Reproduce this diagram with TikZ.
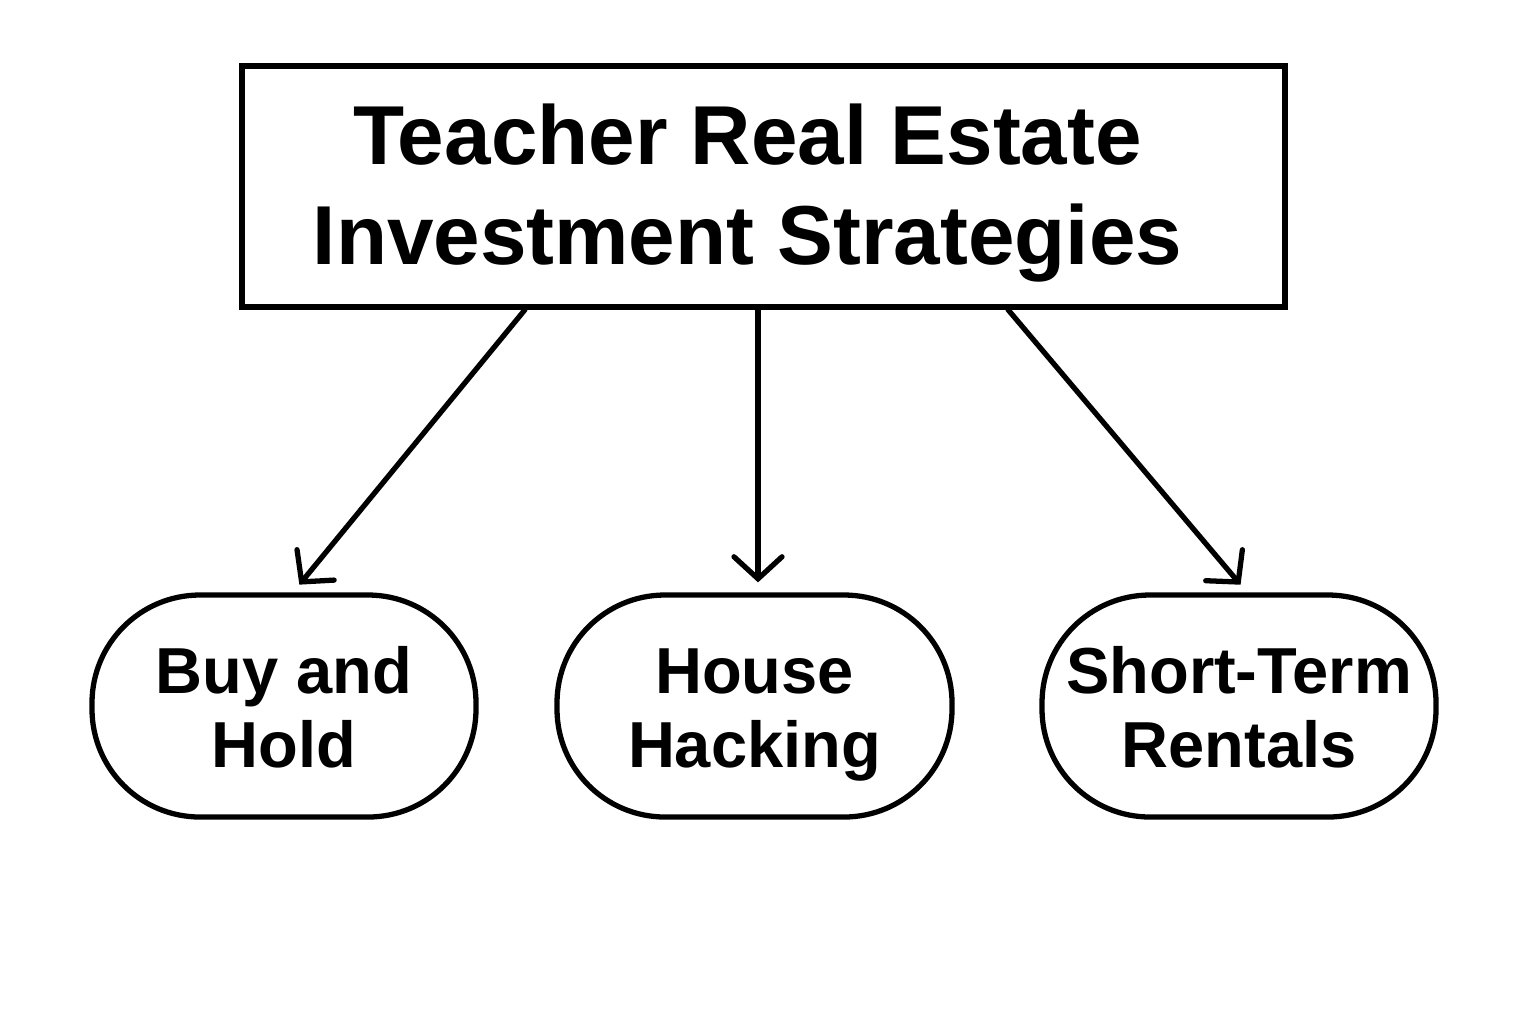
\documentclass[tikz,border=0pt]{standalone}
\usepackage{fontspec}
\setmainfont{Liberation Sans}
\usetikzlibrary{arrows.meta,calc}
\tikzset{
  strategy/.style={draw, line width=1.5pt, rounded corners=1.08cm, minimum width=3.84cm, minimum height=2.22cm, align=center, text height=1.42cm, text depth=0.2cm, font=\bfseries\fontsize{18.5}{21}\selectfont},
  branch/.style={-{Straight Barb[length=0.22cm,width=0.48cm,line cap=round]}, line width=1.5pt, line cap=round, shorten >=0.1cm}
}
\begin{document}
\begin{tikzpicture}
      \useasboundingbox (0,0) rectangle (15.36,-10.24);
      \node[draw, line width=1.5pt, minimum width=10.43cm, minimum height=2.41cm, align=center, text height=1.75cm, text depth=0.2cm, font=\bfseries\fontsize{23.8}{28.2}\selectfont] (title) at (7.635,-1.865) {Teacher Real Estate\hspace*{0.32cm}\\Investment Strategies\hspace*{0.32cm}};
      \node[strategy] (buy) at (2.84,-7.06) {Buy and\\Hold};
      \node[strategy, minimum width=3.95cm] (hack) at (7.545,-7.06) {House\\Hacking};
      \node[strategy, minimum width=3.94cm] (rent) at (12.39,-7.06) {Short-Term\\Rentals};
      \draw[branch] ($(title.south)+(-2.385,0)$) -- ($(buy.north)+(0.09,0)$);
      \draw[branch] ($(title.south)+(-0.055,0)$) -- (hack.north -| {$(title.south)+(-0.055,0)$});
      \draw[branch] ($(title.south)+(2.445,0)$) -- ($(rent.north)+(0.08,0)$);
    \end{tikzpicture}
\end{document}
